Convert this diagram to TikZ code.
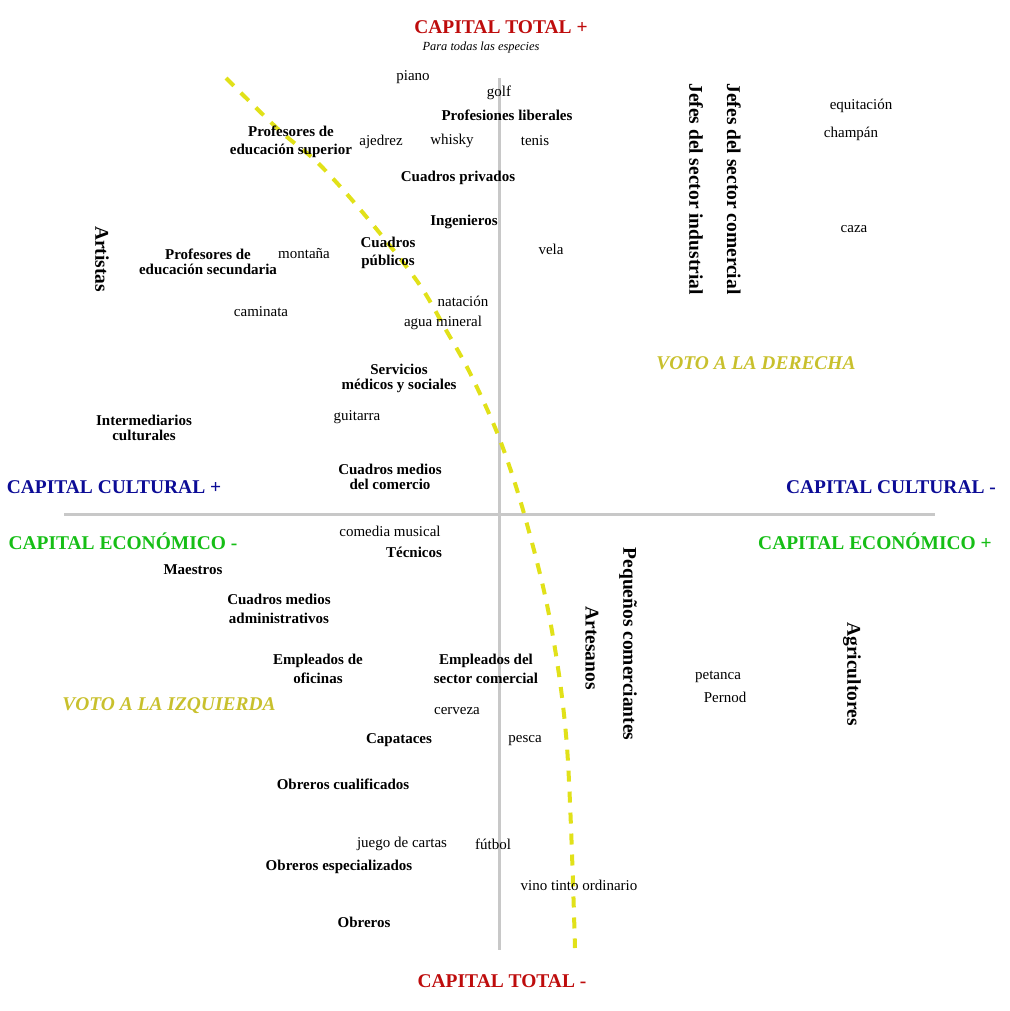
\documentclass[tikz,border=0pt]{standalone}
\usepackage{fontspec}
\setmainfont{Liberation Serif}
\definecolor{ctred}{RGB}{190,12,12}
\definecolor{ccblue}{RGB}{12,12,150}
\definecolor{cegreen}{RGB}{22,190,22}
\definecolor{votoyel}{RGB}{200,192,45}
\definecolor{curveyel}{RGB}{225,225,25}
\definecolor{axisgray}{RGB}{200,200,200}
\tikzset{
  lab/.style={font=\bfseries\fontsize{11.25}{#1}\selectfont, inner sep=0pt, align=center},
  lab/.default=11.25,
  act/.style={font=\fontsize{11.25}{11.25}\selectfont, inner sep=0pt},
  head/.style={font=\bfseries\fontsize{14.6}{14.6}\selectfont, inner sep=0pt},
  vhead/.style={font=\bfseries\fontsize{14.6}{14.6}\selectfont, inner sep=0pt, rotate=-90},
  voto/.style={font=\bfseries\itshape\fontsize{14.6}{14.6}\selectfont, inner sep=0pt, text=votoyel},
  axisline/.style={draw=axisgray, line width=2.25pt},
  frontier/.style={draw=curveyel, line width=3pt, dash pattern=on 8.25pt off 7.5pt}
}
\begin{document}
\begin{tikzpicture}[x=0.75pt,y=-0.75pt]
\useasboundingbox (0,0) rectangle (1010,1011);
% axes
\coordinate (vtop) at (499,78);
\coordinate (vbot) at (499,950);
\coordinate (hleft) at (64,514);
\coordinate (hright) at (935,514);
\draw[axisline] (vtop) -- (vbot);
\draw[axisline] (hleft) -- (hright);
% frontier curve
\draw[frontier] plot[smooth, tension=0.55] coordinates {(226,78) (279,130) (318,163) (364,214) (417,281) (446,330) (471,375) (500,440) (525,517) (550,620) (567,747) (575,948)};
% axis titles
\node[head, text=ctred] (cttop) at (501,27) {CAPITAL TOTAL +};
\node[font=\itshape\fontsize{9.3}{9.3}\selectfont, inner sep=0pt] (especies) at (481,48) {Para todas las especies};
\node[head, text=ctred] (ctbot) at (502,981) {CAPITAL TOTAL -};
\node[head, text=ccblue] (ccplus) at (114,487) {CAPITAL CULTURAL +};
\node[head, text=ccblue] (ccminus) at (891,487) {CAPITAL CULTURAL -};
\node[head, text=cegreen] (ceminus) at (123,541) {CAPITAL ECONÓMICO -};
\node[head, text=cegreen] (ceplus) at (875,541) {CAPITAL ECONÓMICO +};
\node[voto] (vder) at (756,363) {VOTO A LA DERECHA};
\node[voto] (vizq) at (169,706) {VOTO A LA IZQUIERDA};
% vertical labels
\node[vhead] (artistas) at (102,259) {Artistas};
\node[vhead] (jefind) at (696,189) {Jefes del sector industrial};
\node[vhead] (jefcom) at (734,189) {Jefes del sector comercial};
\node[vhead] (pequenos) at (628,644) {Pequeños comerciantes};
\node[vhead] (artesanos) at (592,648) {Artesanos};
\node[vhead] (agric) at (852,674) {Agricultores};
% professions
\node[lab] (proflib) at (507,115) {Profesiones liberales};
\node[lab=13.5] (profsup) at (291,142) {Profesores de\\educación superior};
\node[lab] (cpriv) at (458,178) {Cuadros privados};
\node[lab] (ingen) at (464,222) {Ingenieros};
\node[lab=13.5] (cpub) at (388,253) {Cuadros\\públicos};
\node[lab] (profsec) at (208,262) {Profesores de\\educación secundaria};
\node[lab] (servicios) at (399,378) {Servicios\\médicos y sociales};
\node[lab] (intermed) at (144,428) {Intermediarios\\culturales};
\node[lab] (cmcom) at (390,477) {Cuadros medios\\del comercio};
\node[lab] (tecnicos) at (414,552) {Técnicos};
\node[lab] (maestros) at (193,570) {Maestros};
\node[lab=14.25] (cmadm) at (279,609) {Cuadros medios\\administrativos};
\node[lab=14.25] (empofi) at (318,669) {Empleados de\\oficinas};
\node[lab=14.25] (empcom) at (486,669) {Empleados del\\sector comercial};
\node[lab] (capataces) at (399,740) {Capataces};
\node[lab] (obcual) at (343,784) {Obreros cualificados};
\node[lab] (obesp) at (339,867) {Obreros especializados};
\node[lab] (obreros) at (364,922) {Obreros};
% activities
\node[act] (piano) at (413,77) {piano};
\node[act] (golf) at (499,93) {golf};
\node[act] (ajedrez) at (381,142) {ajedrez};
\node[act] (whisky) at (452,141) {whisky};
\node[act] (tenis) at (535,141) {tenis};
\node[act] (equit) at (861,106) {equitación};
\node[act] (champan) at (851,134) {champán};
\node[act] (caza) at (854,229) {caza};
\node[act] (vela) at (551,249) {vela};
\node[act] (montana) at (304,254) {montaña};
\node[act] (caminata) at (261,312) {caminata};
\node[act] (natacion) at (463,301) {natación};
\node[act] (agua) at (443,323) {agua mineral};
\node[act] (guitarra) at (357,417) {guitarra};
\node[act] (comedia) at (390,531) {comedia musical};
\node[act] (petanca) at (718,677) {petanca};
\node[act] (pernod) at (725,697) {Pernod};
\node[act] (cerveza) at (457,711) {cerveza};
\node[act] (pesca) at (525,741) {pesca};
\node[act] (cartas) at (402,844) {juego de cartas};
\node[act] (futbol) at (493,844) {fútbol};
\node[act] (vino) at (579,885) {vino tinto ordinario};
\end{tikzpicture}
\end{document}
